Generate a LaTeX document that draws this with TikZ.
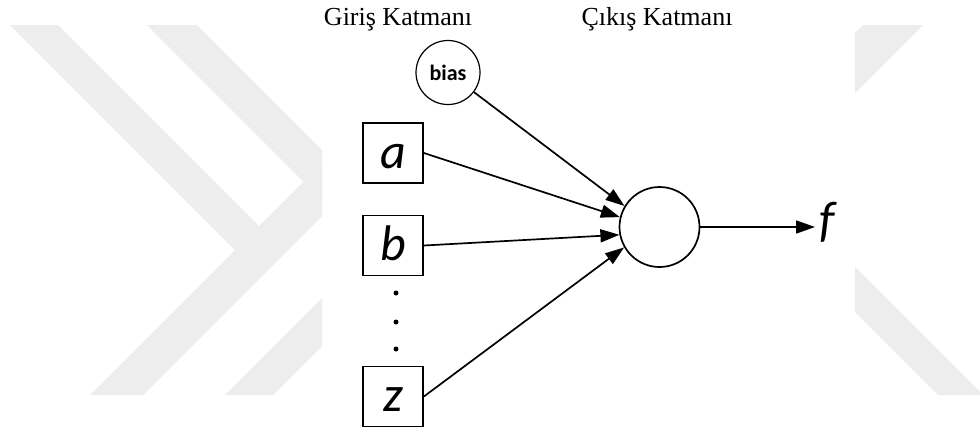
\documentclass[tikz,border=0pt]{standalone}
\usepackage{fontspec}
\setmainfont{Liberation Serif}
\newfontfamily\calib{Carlito}
\usetikzlibrary{arrows.meta}
\definecolor{wm}{RGB}{237,237,237}
\begin{document}
\begin{tikzpicture}[x=1pt,y=-1pt,
  inbox/.style={draw,line width=1.8pt,minimum size=60pt,inner sep=0pt,text height=30pt,text depth=0pt,font=\calib\itshape\fontsize{50}{50}\selectfont},
  neuron/.style={draw,circle,line width=1.7pt,minimum size=80pt,inner sep=0pt},
  biasnode/.style={draw,circle,line width=1.2pt,minimum size=64pt,inner sep=0pt,font=\calib\bfseries\fontsize{22}{22}\selectfont},
  conn/.style={line width=1.7pt,-{Triangle[length=19pt,width=13pt]}},
  hdr/.style={font=\fontsize{26}{30}\selectfont,anchor=base,inner sep=0pt},
  wmark/.style={fill=wm},
  dotnode/.style={circle,fill=black,minimum size=5pt,inner sep=0pt}]
\useasboundingbox (0,0) rectangle (980,432);
\fill[white] (0,0) rectangle (980,432);
% watermark
\fill[wmark] (10,25) -- (58,25) -- (285.5,252.5) -- (235,250) -- cycle;
\fill[wmark] (90,395) -- (143,395) -- (322,216) -- (322,163) -- cycle;
\fill[wmark] (147,25) -- (197,25) -- (322,150) -- (322,200) -- cycle;
\fill[wmark] (225,395) -- (273,395) -- (322,346) -- (322,298) -- cycle;
\fill[wmark] (863,25) -- (923,25) -- (855,93) -- (855,33) -- cycle;
\fill[wmark] (855,267) -- (980,392) -- (980,395) -- (938,395) -- (855,312) -- cycle;
% headers
\node[hdr] (h1) at (398,25) {Giriş Katmanı};
\node[hdr] (h2) at (657,25) {Çıkış Katmanı};
% nodes
\node[biasnode] (bias) at (448,72.5) {bias};
\node[inbox] (a) at (393,153) {a};
\node[inbox] (b) at (393,245.5) {b};
\node[inbox] (z) at (393,396.5) {z};
\node[dotnode] (d1) at (396,293) {};
\node[dotnode] (d2) at (396,322) {};
\node[dotnode] (d3) at (396,349) {};
\node[neuron] (out) at (659.5,227) {};
\node[anchor=west,inner sep=4pt,font=\calib\itshape\fontsize{50}{50}\selectfont] (f) at (815,222) {f};
% connectors
\draw[conn] (bias) -- (out.149);
\draw[conn] (a.east) -- (out.166);
\draw[conn] (b.east) -- (out.191);
\draw[conn] (z.east) -- (out.210);
\draw[conn] (out.east) -- (f.west |- out.east);
\end{tikzpicture}
\end{document}
